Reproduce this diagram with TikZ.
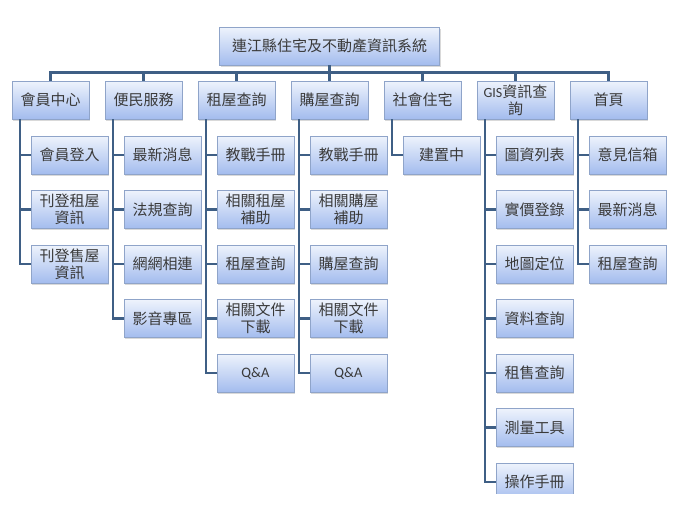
\documentclass[tikz,border=0pt]{standalone}
\usepackage{fontspec}
\setmainfont{Noto Sans CJK TC}
\newfontfamily\latin{Carlito}
\usepackage{xcolor}
\usepackage{tikz}
\usetikzlibrary{shadows}

\definecolor{linec}{HTML}{3F5F85}
\definecolor{boxtop}{HTML}{EEF3FC}
\definecolor{boxbot}{HTML}{A3BCEE}
\definecolor{boxline}{HTML}{8FA4C9}
\definecolor{txt}{HTML}{3A3A3A}

\tikzset{
	box/.style={draw=boxline, top color=boxtop, bottom color=boxbot,
		minimum width=77pt, minimum height=38pt, inner sep=1pt,
		align=center, text=txt, font=\fontsize{15}{17}\selectfont,
		drop shadow={shadow xshift=1pt, shadow yshift=-1.5pt, opacity=0.3}},
	link/.style={linec, line width=2.2pt},
}

\begin{document}
\begin{tikzpicture}[x=1pt,y=-1pt]
			\useasboundingbox (0,0) rectangle (680,509);
			\begin{scope}
			\clip (0,0) rectangle (680,493);
			% top
			\node[box, minimum width=220pt] (root) at (329.5,46) {連江縣住宅及不動產資訊系統};
			\coordinate (bus) at (329.5,72.5);
			% first level
			\node[box] (member) at (50.5,100) {會員中心};
			\node[box] (service) at (143.5,100) {便民服務};
			\node[box] (rent) at (236.5,100) {租屋查詢};
			\node[box] (buy) at (329.5,100) {購屋查詢};
			\node[box] (social) at (422.5,100) {社會住宅};
			\node[box] (gis) at (515.5,100) {{\latin\fontsize{14}{17}\selectfont GIS}資訊查\\詢};
			\node[box] (home) at (608.5,100) {首頁};
			% 會員中心
			\node[box] (member1) at (69.5,155) {會員登入};
			\node[box] (member2) at (69.5,209.5) {刊登租屋\\資訊};
			\node[box] (member3) at (69.5,264) {刊登售屋\\資訊};
			% 便民服務
			\node[box] (service1) at (162.5,155) {最新消息};
			\node[box] (service2) at (162.5,209.5) {法規查詢};
			\node[box] (service3) at (162.5,264) {網網相連};
			\node[box] (service4) at (162.5,318.5) {影音專區};
			% 租屋查詢
			\node[box] (rent1) at (255.5,155) {教戰手冊};
			\node[box] (rent2) at (255.5,209.5) {相關租屋\\補助};
			\node[box] (rent3) at (255.5,264) {租屋查詢};
			\node[box] (rent4) at (255.5,318.5) {相關文件\\下載};
			\node[box, font=\latin\fontsize{14.5}{17}\selectfont] (rent5) at (255.5,373) {Q\&A};
			% 購屋查詢
			\node[box] (buy1) at (348.5,155) {教戰手冊};
			\node[box] (buy2) at (348.5,209.5) {相關購屋\\補助};
			\node[box] (buy3) at (348.5,264) {購屋查詢};
			\node[box] (buy4) at (348.5,318.5) {相關文件\\下載};
			\node[box, font=\latin\fontsize{14.5}{17}\selectfont] (buy5) at (348.5,373) {Q\&A};
			% 社會住宅
			\node[box] (social1) at (441.5,155) {建置中};
			% GIS
			\node[box] (gis1) at (534.5,155) {圖資列表};
			\node[box] (gis2) at (534.5,209.5) {實價登錄};
			\node[box] (gis3) at (534.5,264) {地圖定位};
			\node[box] (gis4) at (534.5,318.5) {資料查詢};
			\node[box] (gis5) at (534.5,373) {租售查詢};
			\node[box] (gis6) at (534.5,427.5) {測量工具};
			\node[box] (gis7) at (534.5,482) {操作手冊};
			% 首頁
			\node[box] (home1) at (627.5,155) {意見信箱};
			\node[box] (home2) at (627.5,209.5) {最新消息};
			\node[box] (home3) at (627.5,264) {租屋查詢};

			% bus lines
			\draw[link] (root.south) -- (root.south |- bus);
			\draw[link] (member.north) -- (member.north |- bus) -- (home.north |- bus) -- (home.north);
			\draw[link] (service.north) -- (service.north |- bus);
			\draw[link] (rent.north) -- (rent.north |- bus);
			\draw[link] (buy.north) -- (buy.north |- bus);
			\draw[link] (social.north) -- (social.north |- bus);
			\draw[link] (gis.north) -- (gis.north |- bus);
			% trunks
			\draw[link] ([xshift=8pt]member.south west) |- (member1.west);
			\draw[link] ([xshift=8pt]member.south west) |- (member2.west);
			\draw[link] ([xshift=8pt]member.south west) |- (member3.west);
			\draw[link] ([xshift=8pt]service.south west) |- (service1.west);
			\draw[link] ([xshift=8pt]service.south west) |- (service2.west);
			\draw[link] ([xshift=8pt]service.south west) |- (service3.west);
			\draw[link] ([xshift=8pt]service.south west) |- (service4.west);
			\draw[link] ([xshift=8pt]rent.south west) |- (rent1.west);
			\draw[link] ([xshift=8pt]rent.south west) |- (rent2.west);
			\draw[link] ([xshift=8pt]rent.south west) |- (rent3.west);
			\draw[link] ([xshift=8pt]rent.south west) |- (rent4.west);
			\draw[link] ([xshift=8pt]rent.south west) |- (rent5.west);
			\draw[link] ([xshift=8pt]buy.south west) |- (buy1.west);
			\draw[link] ([xshift=8pt]buy.south west) |- (buy2.west);
			\draw[link] ([xshift=8pt]buy.south west) |- (buy3.west);
			\draw[link] ([xshift=8pt]buy.south west) |- (buy4.west);
			\draw[link] ([xshift=8pt]buy.south west) |- (buy5.west);
			\draw[link] ([xshift=8pt]social.south west) |- (social1.west);
			\draw[link] ([xshift=8pt]gis.south west) |- (gis1.west);
			\draw[link] ([xshift=8pt]gis.south west) |- (gis2.west);
			\draw[link] ([xshift=8pt]gis.south west) |- (gis3.west);
			\draw[link] ([xshift=8pt]gis.south west) |- (gis4.west);
			\draw[link] ([xshift=8pt]gis.south west) |- (gis5.west);
			\draw[link] ([xshift=8pt]gis.south west) |- (gis6.west);
			\draw[link] ([xshift=8pt]gis.south west) |- (gis7.west);
			\draw[link] ([xshift=8pt]home.south west) |- (home1.west);
			\draw[link] ([xshift=8pt]home.south west) |- (home2.west);
			\draw[link] ([xshift=8pt]home.south west) |- (home3.west);
			\end{scope}
		\end{tikzpicture}
\end{document}
